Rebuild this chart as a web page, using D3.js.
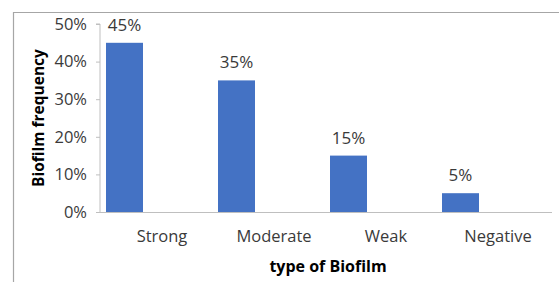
<!DOCTYPE html>
<html>
<head>
<meta charset="utf-8">
<script src="https://cdn.jsdelivr.net/npm/d3@7"></script>
<style>
  html, body { margin: 0; padding: 0; background: #fff; }
  svg { display: block; font-family: "Open Sans", "Noto Sans", sans-serif; }
</style>
</head>
<body>
<svg id="chart" width="559" height="282"></svg>
<script>
// chart values
var categories = ['Strong', 'Moderate', 'Weak', 'Negative'];
var frequency = [0.45, 0.35, 0.15, 0.05];
var yTicks = [0, 0.1, 0.2, 0.3, 0.4, 0.5];

(function() {
  var svg = d3.select('#chart')
      , W = 559, H = 282
      , plotLeft = 100, plotRight = 552, plotTop = 24, plotBottom = 212
      , textColor = '#3a3a3a'
      ;

  // frame round the chart area (only top and left edges show)
  svg.append('path')
    .attr('d', 'M13.5,' + H + 'V12.5H' + W)
    .attr('fill', 'none')
    .attr('stroke', '#a6a6a6')
    .attr('stroke-width', 1.2);

  var x = d3.scaleBand()
      .domain(categories)
      .range([106, 554])
      .paddingInner(0)
      .paddingOuter(0)
      , y = d3.scaleLinear().domain([0, 0.5]).range([plotBottom, plotTop])
      , fmt = d3.format('.0%')
      , barW = 37
      ;

  // y axis
  var yAxis = svg.append('g')
    .attr('transform', 'translate(' + plotLeft + ',0)')
    .call(d3.axisLeft(y).tickValues(yTicks).tickFormat(fmt).tickSize(4).tickPadding(9));
  yAxis.attr('font-family', null).attr('font-size', null);
  yAxis.select('.domain').attr('stroke', '#bfbfbf').attr('d', 'M-4,' + plotTop + 'H0V' + plotBottom);
  yAxis.selectAll('.tick line').attr('stroke', '#bfbfbf');
  yAxis.selectAll('.tick text')
    .attr('fill', textColor)
    .style('font-size', '16.5px');

  // bars
  svg.append('g').selectAll('rect')
    .data(frequency)
    .join('rect')
    .attr('x', function(d, i) { return x(categories[i]); })
    .attr('y', function(d) { return y(d); })
    .attr('width', barW)
    .attr('height', function(d) { return y(0) - y(d); })
    .attr('fill', '#4472c4');

  // x axis line
  svg.append('line')
    .attr('x1', plotLeft).attr('x2', plotRight)
    .attr('y1', plotBottom + 0.5).attr('y2', plotBottom + 0.5)
    .attr('stroke', '#bfbfbf')
    .attr('stroke-width', 1.2);

  // value labels
  svg.append('g').selectAll('text')
    .data(frequency)
    .join('text')
    .attr('x', function(d, i) { return x(categories[i]) + barW / 2; })
    .attr('y', function(d) { return y(d) - 12; })
    .attr('text-anchor', 'middle')
    .attr('fill', textColor)
    .style('font-size', '17px')
    .text(fmt);

  // category labels
  svg.append('g').selectAll('text')
    .data(categories)
    .join('text')
    .attr('x', function(d) { return x(d) + x.bandwidth() / 2; })
    .attr('y', 242)
    .attr('text-anchor', 'middle')
    .attr('fill', textColor)
    .style('font-size', '16.5px')
    .text(function(d) { return d; });

  // axis titles
  svg.append('text')
    .attr('x', 328).attr('y', 272)
    .attr('text-anchor', 'middle')
    .attr('fill', '#000')
    .style('font-size', '16px')
    .style('font-weight', 'bold')
    .text('type of Biofilm');

  svg.append('text')
    .attr('transform', 'translate(44,118) rotate(-90)')
    .attr('text-anchor', 'middle')
    .attr('fill', '#000')
    .style('font-size', '15.5px')
    .style('font-weight', 'bold')
    .text('Biofilm frequency');
})();
</script>
</body>
</html>
